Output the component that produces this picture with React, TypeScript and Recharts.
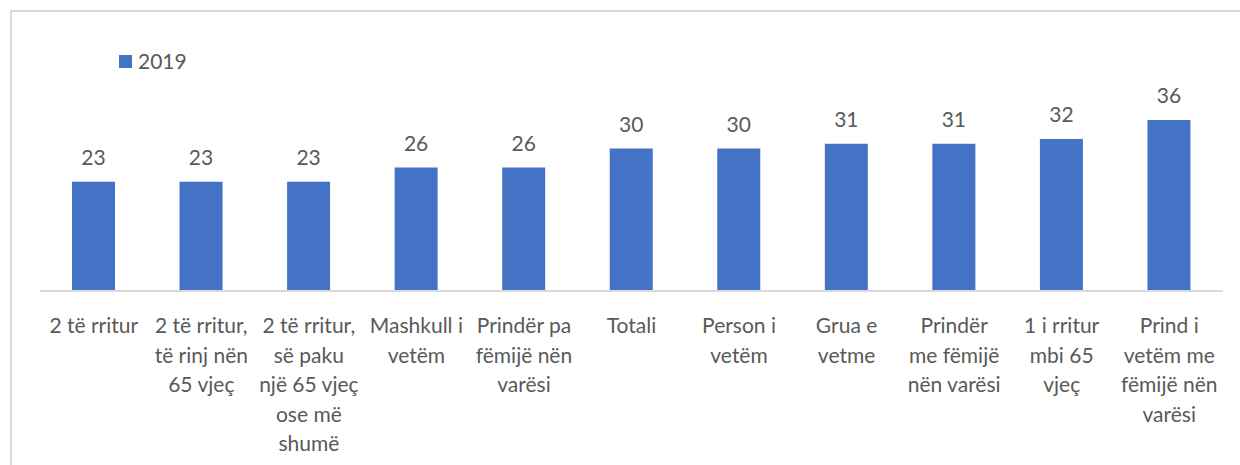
import React from "react";
import { BarChart, Bar, XAxis, YAxis, LabelList } from "recharts";

const categories: string[] = [
  "2 të rritur",
  "2 të rritur,\ntë rinj nën\n65 vjeç",
  "2 të rritur,\nsë paku\nnjë 65 vjeç\nose më\nshumë",
  "Mashkull i\nvetëm",
  "Prindër pa\nfëmijë nën\nvarësi",
  "Totali",
  "Person i\nvetëm",
  "Grua e\nvetme",
  "Prindër\nme fëmijë\nnën varësi",
  "1 i rritur\nmbi 65\nvjeç",
  "Prind i\nvetëm me\nfëmijë nën\nvarësi",
];
const values2019: number[] = [23, 23, 23, 26, 26, 30, 30, 31, 31, 32, 36];
const seriesName = "2019";

const data = categories.map((c, i) => ({ category: c, v2019: values2019[i] }));

const FONT = "Lato, 'Open Sans', sans-serif";
const TEXT = "#595959";
const BLUE = "#4472C4";

const CategoryTick = (props: any) => {
  const { x, y, payload } = props;
  const lines = String(payload.value).split("\n");
  return (
    <text x={x} y={y} textAnchor="middle" fill={TEXT} fontSize={21} fontFamily={FONT}>
      {lines.map((l, i) => (
        <tspan key={i} x={x} y={y + 34 + i * 29.5}>
          {l}
        </tspan>
      ))}
    </text>
  );
};

export default function App() {
  return (
    <div style={{ position: "absolute", left: 0, top: 0, width: 1240, height: 465, overflow: "hidden", background: "#fff" }}>
      <div
        style={{
          position: "absolute",
          left: 10,
          top: 10,
          width: 1300,
          height: 600,
          border: "2px solid #d9d9d9",
          boxSizing: "border-box",
        }}
      />
      <div
        style={{
          position: "absolute",
          left: 119,
          top: 48,
          display: "flex",
          alignItems: "center",
          fontFamily: FONT,
          fontSize: 21,
          color: TEXT,
          lineHeight: "26px",
        }}
      >
        <div style={{ width: 13, height: 13, background: BLUE, marginRight: 6 }} />
        <span>{seriesName}</span>
      </div>
      <div style={{ position: "absolute", left: 0, top: 0 }}>
        <BarChart
          width={1240}
          height={465}
          data={data}
          margin={{ top: 101, right: 17, bottom: 4, left: 40 }}
          barCategoryGap={0}
        >
          <XAxis
            dataKey="category"
            interval={0}
            height={170}
            tickLine={false}
            axisLine={{ stroke: "#d9d9d9", strokeWidth: 2 }}
            tick={<CategoryTick />}
          />
          <YAxis hide domain={[0, 40]} />
          <Bar dataKey="v2019" name={seriesName} fill={BLUE} barSize={43} isAnimationActive={false}>
            <LabelList
              dataKey="v2019"
              position="top"
              offset={17}
              fill={TEXT}
              fontSize={21}
              fontFamily={FONT}
            />
          </Bar>
        </BarChart>
      </div>
    </div>
  );
}
